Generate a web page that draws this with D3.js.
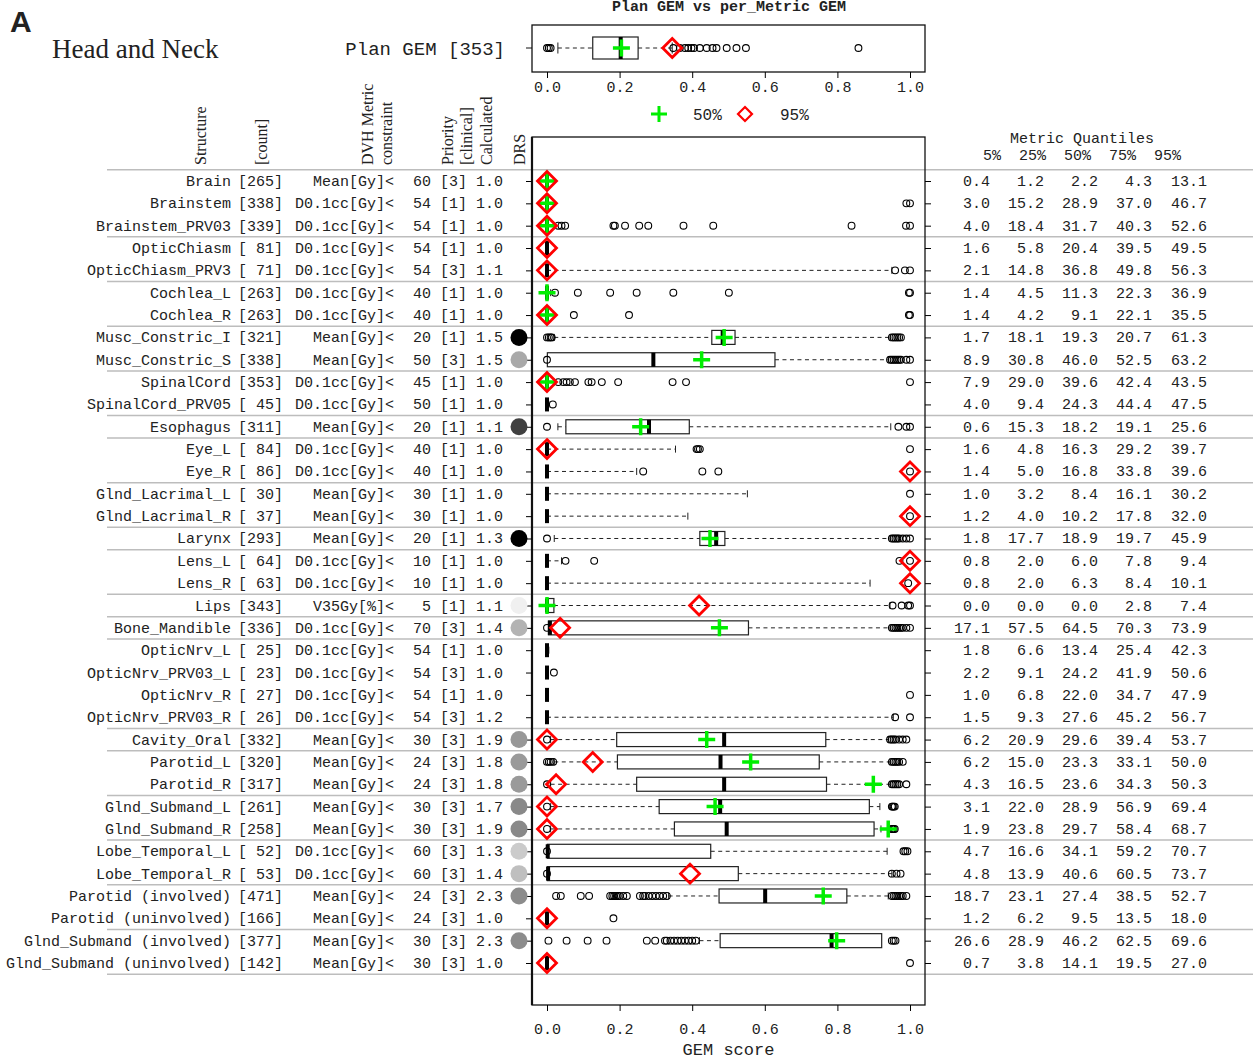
<!DOCTYPE html>
<meta charset="utf-8">
<head>
<script src="https://d3js.org/d3.v7.min.js"></script>
<style>
  body { margin: 0; background: #fff; }
  text { fill: #222; }
</style>
</head>
<body>
<script>
"use strict";

// ---- table columns ----
const structures = ["Brain", "Brainstem", "Brainstem_PRV03", "OpticChiasm", "OpticChiasm_PRV3",
  "Cochlea_L", "Cochlea_R", "Musc_Constric_I", "Musc_Constric_S", "SpinalCord", "SpinalCord_PRV05",
  "Esophagus", "Eye_L", "Eye_R", "Glnd_Lacrimal_L", "Glnd_Lacrimal_R", "Larynx", "Lens_L", "Lens_R",
  "Lips", "Bone_Mandible", "OpticNrv_L", "OpticNrv_PRV03_L", "OpticNrv_R", "OpticNrv_PRV03_R",
  "Cavity_Oral", "Parotid_L", "Parotid_R", "Glnd_Submand_L", "Glnd_Submand_R", "Lobe_Temporal_L",
  "Lobe_Temporal_R", "Parotid (involved)", "Parotid (uninvolved)", "Glnd_Submand (involved)",
  "Glnd_Submand (uninvolved)"];
const counts = [265, 338, 339, 81, 71, 263, 263, 321, 338, 353, 45, 311, 84, 86, 30, 37, 293, 64, 63,
  343, 336, 25, 23, 27, 26, 332, 320, 317, 261, 258, 52, 53, 471, 166, 377, 142];
const metrics = ["Mean[Gy]<", "D0.1cc[Gy]<", "D0.1cc[Gy]<", "D0.1cc[Gy]<", "D0.1cc[Gy]<",
  "D0.1cc[Gy]<", "D0.1cc[Gy]<", "Mean[Gy]<", "Mean[Gy]<", "D0.1cc[Gy]<", "D0.1cc[Gy]<",
  "Mean[Gy]<", "D0.1cc[Gy]<", "D0.1cc[Gy]<", "Mean[Gy]<", "Mean[Gy]<", "Mean[Gy]<",
  "D0.1cc[Gy]<", "D0.1cc[Gy]<", "V35Gy[%]<", "D0.1cc[Gy]<", "D0.1cc[Gy]<", "D0.1cc[Gy]<",
  "D0.1cc[Gy]<", "D0.1cc[Gy]<", "Mean[Gy]<", "Mean[Gy]<", "Mean[Gy]<", "Mean[Gy]<", "Mean[Gy]<",
  "D0.1cc[Gy]<", "D0.1cc[Gy]<", "Mean[Gy]<", "Mean[Gy]<", "Mean[Gy]<", "Mean[Gy]<"];
const limits = [60, 54, 54, 54, 54, 40, 40, 20, 50, 45, 50, 20, 40, 40, 30, 30, 20, 10, 10, 5, 70,
  54, 54, 54, 54, 30, 24, 24, 30, 30, 60, 60, 24, 24, 30, 30];
const priorities = [3, 1, 1, 1, 3, 1, 1, 1, 3, 1, 1, 1, 1, 1, 1, 1, 1, 1, 1, 1, 3, 1, 3, 1, 3, 3, 3,
  3, 3, 3, 3, 3, 3, 3, 3, 3];
const calculated = [1.0, 1.0, 1.0, 1.0, 1.1, 1.0, 1.0, 1.5, 1.5, 1.0, 1.0, 1.1, 1.0, 1.0, 1.0, 1.0,
  1.3, 1.0, 1.0, 1.1, 1.4, 1.0, 1.0, 1.0, 1.2, 1.9, 1.8, 1.8, 1.7, 1.9, 1.3, 1.4, 2.3, 1.0, 2.3, 1.0];
// DRS strength (0 = none, 1 = full), null = not shown
const drsValues = [null, null, null, null, null, null, null, 1.0, 0.31, null, null, 0.74, null, null,
  null, null, 1.0, null, null, 0.02, 0.27, null, null, null, null, 0.38, 0.37, 0.37, 0.44, 0.44,
  0.17, 0.22, 0.43, null, 0.43, null];
// first row of each new group
const groupStarts = [3, 5, 7, 9, 11, 12, 14, 16, 17, 19, 20, 21, 25, 26, 28, 30, 32, 34];

// ---- GEM boxplots: [whisker lo, q1, median, q3, whisker hi] ----
const boxStats = [
  [0, 0, 0, 0, 0], [0, 0, 0, 0, 0], [0, 0, 0, 0, 0.02], [0, 0, 0, 0, 0], [0, 0, 0, 0, 0.95],
  [0, 0, 0, 0, 0.01], [0, 0, 0, 0, 0], [0.02, 0.454, 0.484, 0.518, 0.945],
  [0.001, 0.001, 0.293, 0.628, 0.94], [0, 0, 0, 0, 0.02], [0, 0, 0, 0, 0.005],
  [0.03, 0.052, 0.281, 0.392, 0.947], [0, 0, 0, 0, 0.354], [0, 0, 0, 0, 0.247],
  [0, 0, 0, 0, 0.552], [0, 0, 0, 0, 0.388], [0.02, 0.421, 0.466, 0.49, 0.945],
  [0, 0, 0, 0, 0.04], [0, 0, 0, 0, 0.89], [0, 0, 0, 0.019, 0.945],
  [0.004, 0.004, 0.008, 0.555, 0.945], [0, 0, 0, 0, 0.005], [0, 0, 0, 0, 0], [0, 0, 0, 0, 0],
  [0, 0, 0, 0, 0.954], [0.01, 0.192, 0.488, 0.768, 0.94], [0.02, 0.194, 0.478, 0.75, 0.945],
  [0.01, 0.247, 0.488, 0.77, 0.945], [0.01, 0.309, 0.477, 0.888, 0.917],
  [0.01, 0.351, 0.495, 0.901, 0.92], [0.001, 0.001, 0.002, 0.451, 0.937],
  [0.001, 0.001, 0.003, 0.527, 0.95], [0.335, 0.474, 0.601, 0.826, 0.94], [0, 0, 0, 0, 0],
  [0.42, 0.477, 0.784, 0.922, 0.922], [0, 0, 0, 0, 0]
];
const outlierValues = [
  [], [0.99, 1.0],
  [0.031, 0.04, 0.05, 0.183, 0.187, 0.215, 0.254, 0.279, 0.376, 0.458, 0.839, 0.989, 1.0],
  [], [0.959, 0.986, 1.0],
  [0.022, 0.085, 0.174, 0.247, 0.348, 0.501, 0.997, 1.0], [0.074, 0.226, 0.997, 1.0],
  [0, 0.005, 0.01, 0.013, 0.95, 0.955, 0.96, 0.965, 0.97, 0.975],
  [0, 0.945, 0.95, 0.955, 0.96, 0.965, 0.97, 0.975, 0.99, 1.0],
  [0.031, 0.045, 0.054, 0.063, 0.077, 0.114, 0.123, 0.151, 0.196, 0.346, 0.383, 1.0], [0.016],
  [0, 0.968, 0.99, 1.0], [0.412, 0.416, 0.421, 1.0], [0.265, 0.428, 0.472, 1.0], [1.0], [1.0],
  [0, 0.95, 0.955, 0.96, 0.965, 0.97, 0.98, 0.99, 1.0], [0.051, 0.13, 0.971, 1.0], [0.995],
  [0.952, 0.977, 0.995, 1.0],
  [0, 0.95, 0.955, 0.96, 0.965, 0.97, 0.975, 0.98, 0.99, 1.0], [], [0.019], [1.0], [0.959, 1.0],
  [0, 0.945, 0.95, 0.955, 0.96, 0.97, 0.98, 0.99],
  [0, 0.005, 0.01, 0.017, 0.95, 0.955, 0.96, 0.965, 0.97, 0.98],
  [0, 0.95, 0.955, 0.96, 0.965, 0.97, 0.99], [0, 0.95, 0.952, 0.955, 0.958],
  [0, 0.95, 0.952, 0.955, 0.958], [0, 0.982, 0.987, 0.993], [0, 0.95, 0.963, 0.974],
  [0.025, 0.038, 0.093, 0.116, 0.174, 0.18, 0.185, 0.19, 0.195, 0.2, 0.21, 0.22, 0.256, 0.265,
    0.27, 0.28, 0.29, 0.3, 0.31, 0.32, 0.33, 0.95, 0.955, 0.96, 0.965, 0.97, 0.975, 0.98, 0.99],
  [0.183],
  [0.004, 0.054, 0.112, 0.164, 0.275, 0.298, 0.325, 0.33, 0.34, 0.35, 0.36, 0.37, 0.38, 0.39,
    0.4, 0.41, 0.95, 0.955, 0.96],
  [1.0]
];
const p50Values = [0, 0, 0, null, null, 0, 0, 0.488, 0.426, 0, null, 0.258, null, null, null, null,
  0.449, null, null, 0, 0.475, null, null, null, null, 0.44, 0.561, 0.899, 0.463, 0.94, null, null,
  0.761, null, 0.798, null];
const p95Values = [0, 0, 0, 0, 0, null, 0, null, null, 0, null, null, 0, 1.0, null, 1.0, null, 1.0,
  1.0, 0.419, 0.036, null, null, null, null, 0, 0.126, 0.025, 0, 0, null, 0.394, null, 0, null, 0];

// ---- metric quantiles (5%, 25%, 50%, 75%, 95%) ----
const quantileLabels = ["5%", "25%", "50%", "75%", "95%"];
const quantileValues = [
  [0.4, 1.2, 2.2, 4.3, 13.1], [3.0, 15.2, 28.9, 37.0, 46.7], [4.0, 18.4, 31.7, 40.3, 52.6],
  [1.6, 5.8, 20.4, 39.5, 49.5], [2.1, 14.8, 36.8, 49.8, 56.3], [1.4, 4.5, 11.3, 22.3, 36.9],
  [1.4, 4.2, 9.1, 22.1, 35.5], [1.7, 18.1, 19.3, 20.7, 61.3], [8.9, 30.8, 46.0, 52.5, 63.2],
  [7.9, 29.0, 39.6, 42.4, 43.5], [4.0, 9.4, 24.3, 44.4, 47.5], [0.6, 15.3, 18.2, 19.1, 25.6],
  [1.6, 4.8, 16.3, 29.2, 39.7], [1.4, 5.0, 16.8, 33.8, 39.6], [1.0, 3.2, 8.4, 16.1, 30.2],
  [1.2, 4.0, 10.2, 17.8, 32.0], [1.8, 17.7, 18.9, 19.7, 45.9], [0.8, 2.0, 6.0, 7.8, 9.4],
  [0.8, 2.0, 6.3, 8.4, 10.1], [0.0, 0.0, 0.0, 2.8, 7.4], [17.1, 57.5, 64.5, 70.3, 73.9],
  [1.8, 6.6, 13.4, 25.4, 42.3], [2.2, 9.1, 24.2, 41.9, 50.6], [1.0, 6.8, 22.0, 34.7, 47.9],
  [1.5, 9.3, 27.6, 45.2, 56.7], [6.2, 20.9, 29.6, 39.4, 53.7], [6.2, 15.0, 23.3, 33.1, 50.0],
  [4.3, 16.5, 23.6, 34.3, 50.3], [3.1, 22.0, 28.9, 56.9, 69.4], [1.9, 23.8, 29.7, 58.4, 68.7],
  [4.7, 16.6, 34.1, 59.2, 70.7], [4.8, 13.9, 40.6, 60.5, 73.7], [18.7, 23.1, 27.4, 38.5, 52.7],
  [1.2, 6.2, 9.5, 13.5, 18.0], [26.6, 28.9, 46.2, 62.5, 69.6], [0.7, 3.8, 14.1, 19.5, 27.0]
];

// ---- plan GEM ----
const planCount = 353;
const planStats = [0.03, 0.126, 0.203, 0.251, 0.345];
const planOutliers = [0, 0.005, 0.01, 0.348, 0.366, 0.38, 0.389, 0.398, 0.405, 0.421, 0.44, 0.456,
  0.467, 0.495, 0.522, 0.548, 0.858];
const planP50 = 0.205;
const planP95 = 0.345;
const xTicks = [0, 0.2, 0.4, 0.6, 0.8, 1.0];

// ---------------------------------------------------------------
var width = 1253, height = 1060;
var mono = "'Liberation Mono', 'Courier New', monospace";
var serif = "'Liberation Serif', 'Times New Roman', serif";

var svg = d3.select("body").append("svg")
  .attr("width", width)
  .attr("height", height);

var x = d3.scaleLinear().domain([0, 1]).range([547, 910]);
var y = d3.scalePoint().domain(d3.range(structures.length)).range([181, 963]);
var step = y.step();
var drsColor = d3.scaleLinear().domain([0, 1]).range(["#f5f5f5", "#000"]);
var fmt1 = d3.format(".1f");

var plot = { left: 532, right: 925, top: 137, bottom: 1005 };
var planBox = { top: 25, bottom: 72 };

// group separators
var sepY = [y(0) - step / 2]
  .concat(groupStarts.map(i => y(i) - step / 2))
  .concat([y(structures.length - 1) + step / 2]);
svg.selectAll("line.sep")
  .data(sepY)
  .enter().append("line")
    .attr("class", "sep")
    .attr("x1", 107).attr("x2", width)
    .attr("y1", d => d).attr("y2", d => d)
    .attr("stroke", "#bdbdbd")
    .attr("stroke-width", 1.5);

// --- boxplot drawing (R style) ---
function boxplot(parent, cy, s, outs, p50, p95, bh) {
  var g = parent.append("g");
  var lo = s[0], q1 = s[1], med = s[2], q3 = s[3], hi = s[4];
  if (lo < q1) {
    g.append("line").attr("x1", x(lo)).attr("x2", x(q1)).attr("y1", cy).attr("y2", cy)
      .attr("stroke", "#222").attr("stroke-dasharray", "4,3.5");
    g.append("line").attr("x1", x(lo)).attr("x2", x(lo)).attr("y1", cy - bh / 4).attr("y2", cy + bh / 4)
      .attr("stroke", "#222");
  }
  if (hi > q3) {
    g.append("line").attr("x1", x(q3)).attr("x2", x(hi)).attr("y1", cy).attr("y2", cy)
      .attr("stroke", "#222").attr("stroke-dasharray", "4,3.5");
    g.append("line").attr("x1", x(hi)).attr("x2", x(hi)).attr("y1", cy - bh / 4).attr("y2", cy + bh / 4)
      .attr("stroke", "#222");
  }
  g.append("rect")
    .attr("x", x(q1)).attr("y", cy - bh / 2)
    .attr("width", x(q3) - x(q1)).attr("height", bh)
    .attr("fill", "none").attr("stroke", "#222").attr("stroke-width", 1.2);
  g.append("rect")
    .attr("x", x(med) - 2).attr("y", cy - bh / 2)
    .attr("width", 4).attr("height", bh)
    .attr("fill", "#000");
  g.selectAll("circle.out")
    .data(outs)
    .enter().append("circle")
      .attr("class", "out")
      .attr("cx", d => x(d)).attr("cy", cy).attr("r", 3.4)
      .attr("fill", "none").attr("stroke", "#000").attr("stroke-width", 1.1);
  if (p50 != null) {
    var px = x(p50);
    g.append("path")
      .attr("d", "M" + (px - 8.5) + "," + cy + "H" + (px + 8.5) + "M" + px + "," + (cy - 8.5) + "V" + (cy + 8.5))
      .attr("stroke", "#00ee00").attr("stroke-width", 3.5).attr("fill", "none");
  }
  if (p95 != null) {
    var dx = x(p95), r = 9.5;
    g.append("path")
      .attr("d", "M" + dx + "," + (cy - r) + "L" + (dx + r) + "," + cy + "L" + dx + "," + (cy + r) +
        "L" + (dx - r) + "," + cy + "Z")
      .attr("stroke", "#ff0000").attr("stroke-width", 2.8).attr("fill", "none");
  }
}

// --- main plot ---
var marks = svg.append("g");
structures.forEach(function(s, i) {
  boxplot(marks, y(i), boxStats[i], outlierValues[i], p50Values[i], p95Values[i], 14);
});

svg.append("rect")
  .attr("x", plot.left).attr("y", plot.top)
  .attr("width", plot.right - plot.left).attr("height", plot.bottom - plot.top)
  .attr("fill", "none").attr("stroke", "#111").attr("stroke-width", 1.3);
svg.append("line")
  .attr("x1", plot.left).attr("x2", plot.left).attr("y1", plot.top).attr("y2", plot.bottom)
  .attr("stroke", "#111").attr("stroke-width", 2.2);

svg.append("g")
  .attr("transform", "translate(" + plot.left + ",0)")
  .call(d3.axisLeft(y).tickSize(6).tickFormat(""))
  .call(g => g.select(".domain").remove());
svg.append("g")
  .attr("transform", "translate(" + plot.right + ",0)")
  .call(d3.axisRight(y).tickSize(6).tickFormat(""))
  .call(g => g.select(".domain").remove());

var xAxis = svg.append("g")
  .attr("transform", "translate(0," + plot.bottom + ")")
  .call(d3.axisBottom(x).tickValues(xTicks).tickFormat(fmt1).tickSize(6).tickPadding(12));
xAxis.select(".domain").remove();
xAxis.selectAll("text").attr("font-family", mono).attr("font-size", 15).attr("fill", "#222");

svg.append("text")
  .attr("x", (plot.left + plot.right) / 2).attr("y", 1055)
  .attr("text-anchor", "middle")
  .attr("font-family", mono).attr("font-size", 17)
  .text("GEM score");

// --- DRS circles ---
svg.selectAll("circle.drs")
  .data(structures.map((s, i) => i).filter(i => drsValues[i] != null))
  .enter().append("circle")
    .attr("class", "drs")
    .attr("cx", 519).attr("cy", i => y(i)).attr("r", 8.5)
    .attr("fill", i => drsColor(drsValues[i]));

// --- left table ---
var table = svg.append("g")
  .attr("font-family", mono).attr("font-size", 15)
  .style("white-space", "pre");
function col(xpos, fn) {
  table.append("g").selectAll("text")
    .data(structures)
    .enter().append("text")
      .attr("x", xpos).attr("y", (d, i) => y(i) + 5)
      .attr("text-anchor", "end")
      .text(fn);
}
col(231, d => d);
col(283, (d, i) => "[" + String(counts[i]).padStart(3, " ") + "]");
col(394, (d, i) => metrics[i]);
col(431, (d, i) => limits[i]);
col(467, (d, i) => "[" + priorities[i] + "]");
col(503, (d, i) => fmt1(calculated[i]));

// rotated headers
var headers = [
  { t: "Structure", x: 206 }, { t: "[count]", x: 267 },
  { t: "DVH Metric", x: 373 }, { t: "constraint", x: 392 },
  { t: "Priority", x: 453 }, { t: "[clinical]", x: 472 }, { t: "Calculated", x: 492 },
  { t: "DRS", x: 525 }
];
svg.selectAll("text.hdr")
  .data(headers)
  .enter().append("text")
    .attr("class", "hdr")
    .attr("transform", d => "translate(" + d.x + ",165) rotate(-90)")
    .attr("font-family", serif).attr("font-size", 16)
    .text(d => d.t);

// --- right quantile table ---
var qCols = [990, 1044, 1098, 1152, 1207];
var qt = svg.append("g").attr("font-family", mono).attr("font-size", 15);
qt.append("text").attr("x", 1082).attr("y", 143).attr("text-anchor", "middle").text("Metric Quantiles");
qt.append("text").attr("x", 983).attr("y", 160).style("white-space", "pre")
  .text(quantileLabels.join("  "));
quantileLabels.forEach(function(lab, k) {
  qt.append("g").selectAll("text")
    .data(quantileValues)
    .enter().append("text")
      .attr("x", qCols[k]).attr("y", (d, i) => y(i) + 5)
      .attr("text-anchor", "end")
      .text(d => fmt1(d[k]));
});

// --- top panel: plan GEM ---
var topG = svg.append("g");
boxplot(topG, 48, planStats, planOutliers, planP50, planP95, 22);
svg.append("rect")
  .attr("x", plot.left).attr("y", planBox.top)
  .attr("width", plot.right - plot.left).attr("height", planBox.bottom - planBox.top)
  .attr("fill", "none").attr("stroke", "#111").attr("stroke-width", 1.3);
svg.append("line")
  .attr("x1", plot.left - 6).attr("x2", plot.left).attr("y1", 48).attr("y2", 48)
  .attr("stroke", "#111");
var topAxis = svg.append("g")
  .attr("transform", "translate(0," + planBox.bottom + ")")
  .call(d3.axisBottom(x).tickValues(xTicks).tickFormat(fmt1).tickSize(6).tickPadding(3));
topAxis.select(".domain").remove();
topAxis.selectAll("text").attr("font-family", mono).attr("font-size", 15).attr("fill", "#222");

svg.append("text")
  .attr("x", 729).attr("y", 11)
  .attr("text-anchor", "middle")
  .attr("font-family", mono).attr("font-size", 15).attr("font-weight", "bold")
  .text("Plan GEM vs per_Metric GEM");

svg.append("text")
  .attr("x", 505).attr("y", 55)
  .attr("text-anchor", "end")
  .attr("font-family", mono).attr("font-size", 19)
  .style("white-space", "pre")
  .text("Plan GEM [" + planCount + "]");

// legend
var leg = svg.append("g");
leg.append("path")
  .attr("d", "M651,114H667M659,106V122")
  .attr("stroke", "#00ee00").attr("stroke-width", 3).attr("fill", "none");
leg.append("text").attr("x", 693).attr("y", 120)
  .attr("font-family", mono).attr("font-size", 16).text("50%");
leg.append("path")
  .attr("d", "M745,107L752,114L745,121L738,114Z")
  .attr("stroke", "#ff0000").attr("stroke-width", 2.2).attr("fill", "none");
leg.append("text").attr("x", 780).attr("y", 120)
  .attr("font-family", mono).attr("font-size", 16).text("95%");

// titles
svg.append("text")
  .attr("x", 10).attr("y", 32)
  .attr("font-family", "'Liberation Sans', Arial, sans-serif").attr("font-weight", "bold").attr("font-size", 30)
  .attr("fill", "#000")
  .text("A");
svg.append("text")
  .attr("x", 52).attr("y", 58)
  .attr("font-family", serif).attr("font-size", 27)
  .text("Head and Neck");
</script>
</body>
